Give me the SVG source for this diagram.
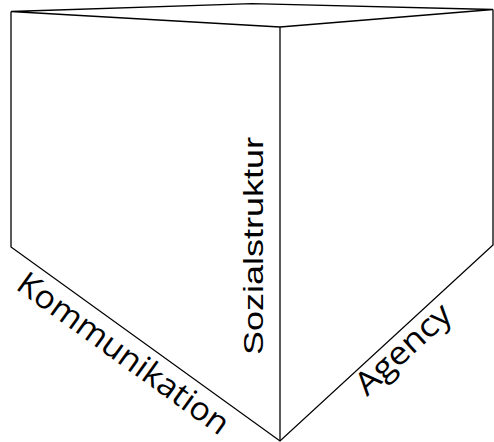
<svg xmlns="http://www.w3.org/2000/svg" width="494" height="442" viewBox="0 0 494 442">
<style>
.edge{fill:none;stroke:#000;stroke-width:1.3;stroke-linejoin:miter}
.lbl{fill:#000;font-family:"Open Sans","Noto Sans",sans-serif;font-size:32px}
.lbl2{fill:#000;font-family:"Liberation Sans",Arial,sans-serif;font-size:28px}
</style>
<rect width="494" height="442" fill="#fff"/>
<g id="prism">
<path class="edge" d="M11,11.5 L252,3.7 L493,9.5 L280,27 Z"/>
<path class="edge" d="M11,11.5 L11,247 L280,441 L493,245 L493,9.5"/>
<path class="edge" d="M280,27 L280,441"/>
</g>
<g id="labels">
<text class="lbl" transform="translate(14.5,288.3) rotate(35.8)" textLength="253" lengthAdjust="spacingAndGlyphs">Kommunikation</text>
<text class="lbl2" transform="translate(263,355) rotate(-90)" textLength="218" lengthAdjust="spacingAndGlyphs">Sozialstruktur</text>
<text class="lbl" transform="translate(367,397) rotate(-42.6)" textLength="118" lengthAdjust="spacingAndGlyphs">Agency</text>
</g>
</svg>
